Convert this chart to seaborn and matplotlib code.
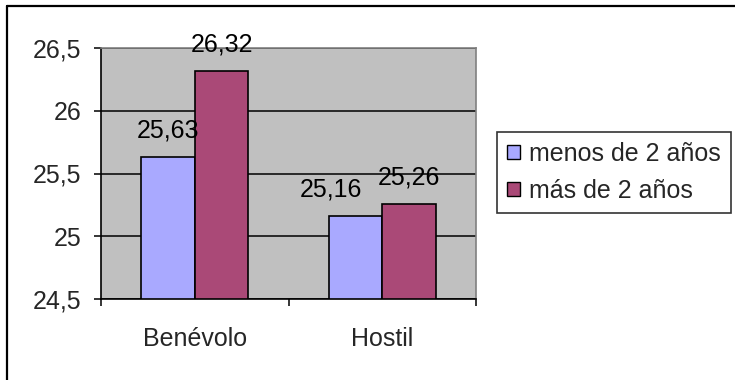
import matplotlib
matplotlib.use("Agg")
import matplotlib.pyplot as plt
from matplotlib.lines import Line2D
from matplotlib.ticker import FuncFormatter, FixedLocator
import seaborn as sns
import pandas as pd

categories = ["Benévolo", "Hostil"]
series_names = ["menos de 2 años", "más de 2 años"]
menos_2 = [25.63, 25.16]
mas_2 = [26.32, 25.26]
y_ticks = [24.5, 25.0, 25.5, 26.0, 26.5]

df = pd.DataFrame({
    "cat": categories * 2,
    "grupo": [series_names[0]] * len(categories) + [series_names[1]] * len(categories),
    "val": menos_2 + mas_2,
})

sns.set_theme(style="white")
plt.rcParams["font.family"] = ["Liberation Sans", "DejaVu Sans"]

FS = 18
W, H = 735, 380
fig = plt.figure(figsize=(W / 100, H / 100), dpi=100)
fig.patch.set_facecolor("white")
ax = fig.add_axes([101 / W, (H - 299) / H, 375 / W, 251 / H])
ax.set_facecolor("#C0C0C0")

sns.barplot(data=df, x="cat", y="val", hue="grupo", order=categories,
            hue_order=series_names, palette=["#A9A9FF", "#AA4977"],
            saturation=1, width=0.5714, edgecolor="black", linewidth=1.2,
            ax=ax, zorder=3)

ax.set_ylim(y_ticks[0], y_ticks[-1])
ax.set_xlim(-0.5, len(categories) - 0.5)
ax.set_yticks(y_ticks)
ax.yaxis.set_major_formatter(FuncFormatter(lambda v, p: f"{v:g}".replace(".", ",")))
ax.set_xlabel("")
ax.set_ylabel("")

# gridlines
ax.set_axisbelow(True)
ax.yaxis.grid(True, color="black", linewidth=1.1)
ax.xaxis.grid(False)

# spines
for s in ["left", "bottom"]:
    ax.spines[s].set_color("black")
    ax.spines[s].set_linewidth(1.2)
    ax.spines[s].set_zorder(4)
for s in ["top", "right"]:
    ax.spines[s].set_color("#808080")
    ax.spines[s].set_linewidth(1.2)
    ax.spines[s].set_zorder(4)

# ticks
ax.tick_params(axis="y", which="major", direction="out", length=5, width=1.1,
               color="black", pad=9, labelsize=FS, left=True)
ax.tick_params(axis="x", which="major", length=0, pad=20, labelsize=FS, bottom=True)
ax.xaxis.set_minor_locator(FixedLocator([-0.5 + i for i in range(len(categories) + 1)]))
ax.tick_params(axis="x", which="minor", direction="out", length=5, width=1.1,
               color="black", bottom=True)

# data labels (Excel nudges the crowded left label of "Hostil" leftwards)
label_dx = [[0, -18], [0, 0]]  # points, per series / category
for si, (cont, vals) in enumerate(zip(ax.containers, [menos_2, mas_2])):
    for ci, (bar, v) in enumerate(zip(cont.patches, vals)):
        ax.annotate(f"{v:.2f}".replace(".", ","),
                    xy=(bar.get_x() + bar.get_width() / 2, bar.get_height()),
                    xytext=(label_dx[si][ci], 14), textcoords="offset points",
                    ha="center", va="baseline", fontsize=FS, color="black",
                    annotation_clip=False, zorder=5)

# legend
leg = ax.legend(loc="upper left", bbox_to_anchor=(497 / W, 1 - 132 / H),
                bbox_transform=fig.transFigure, borderaxespad=0,
                fontsize=FS, frameon=True, fancybox=False, shadow=False,
                handlelength=0.5, handleheight=0.5, handletextpad=0.37,
                labelspacing=0.5, borderpad=0.4, title=None)
leg.get_frame().set_edgecolor("black")
leg.get_frame().set_linewidth(1.2)
leg.get_frame().set_facecolor("white")
for h in leg.legend_handles:
    h.set_edgecolor("black")
    h.set_linewidth(1.0)

# outer chart border (only left and top visible)
fig.add_artist(Line2D([7 / W, 7 / W], [0, 1 - 6 / H], transform=fig.transFigure,
                      color="black", linewidth=1.6))
fig.add_artist(Line2D([7 / W, 1], [1 - 6 / H, 1 - 6 / H], transform=fig.transFigure,
                      color="black", linewidth=1.6))

fig.savefig("out.png", dpi=100)
